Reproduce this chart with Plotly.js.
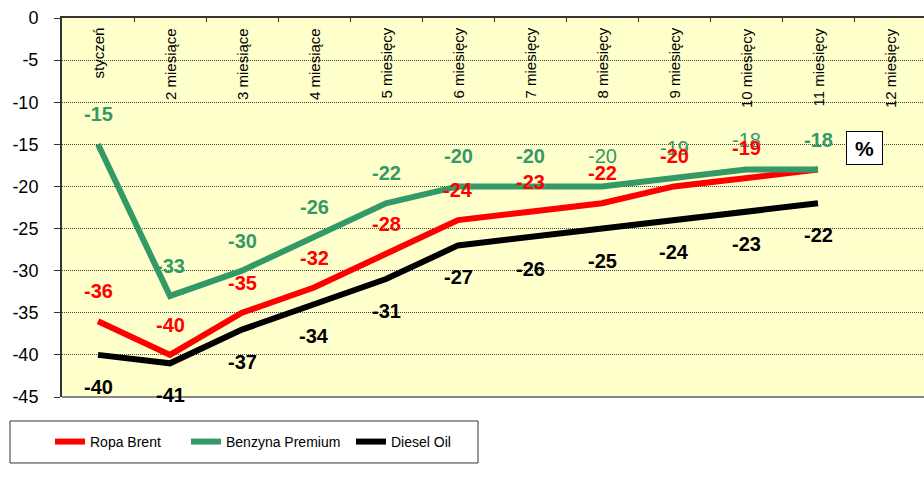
<!DOCTYPE html>
<html>
<head>
<meta charset="utf-8">
<script src="https://cdn.plot.ly/plotly-3.0.1.min.js"></script>
<style>
html,body{margin:0;padding:0;overflow:hidden;background:#fff;}
#chart{width:926px;height:489px;}
</style>
</head>
<body>
<div id="chart"></div>
<script>
// ---- data ----
var categories = ['styczeń','2 miesiące','3 miesiące','4 miesiące','5 miesięcy','6 miesięcy','7 miesięcy','8 miesięcy','9 miesięcy','10 miesięcy','11 miesięcy','12 miesięcy'];
var brentValues   = [-36,-40,-35,-32,-28,-24,-23,-22,-20,-19,-18];
var benzynaValues = [-15,-33,-30,-26,-22,-20,-20,-20,-19,-18,-18];
var dieselValues  = [-40,-41,-37,-34,-31,-27,-26,-25,-24,-23,-22];
var brentLabelShown   = [1,1,1,1,1,1,1,1,1,1,0];
var benzynaLabelBold  = [1,1,1,1,1,1,1,0,0,0,1];
var seriesNames = ['Ropa Brent','Benzyna Premium','Diesel Oil'];
var yTicks = [0,-5,-10,-15,-20,-25,-30,-35,-40,-45];

var RED = '#FF0000', GREEN = '#339966', BLACK = '#000000';
var FONT = 'Arial, "Liberation Sans", sans-serif';

function mkTrace(name, vals, color, legendId) {
  return {
    type: 'scatter', mode: 'lines', name: name,
    x: categories.slice(0, vals.length), y: vals,
    line: {color: color, width: 6},
    legend: legendId, hoverinfo: 'skip'
  };
}
var traces = [
  mkTrace(seriesNames[0], brentValues, RED, 'legend'),
  mkTrace(seriesNames[1], benzynaValues, GREEN, 'legend2'),
  mkTrace(seriesNames[2], dieselValues, BLACK, 'legend3')
];

var annotations = [];
// category labels, rotated, inside the plot under the top axis
categories.forEach(function(c){
  annotations.push({x: c, y: 1, xref:'x', yref:'paper', xanchor:'center', yanchor:'top',
    yshift: -8, textangle: -90, showarrow:false, text: c,
    font:{family: FONT, size: 15, color:'#000'}});
});
benzynaValues.forEach(function(v, i){
  annotations.push({x: categories[i], y: v, xref:'x', yref:'y', yshift: 30, showarrow:false,
    text: benzynaLabelBold[i] ? '<b>'+v+'</b>' : String(v),
    font:{family: FONT, size: 20, color: GREEN}});
});
brentValues.forEach(function(v, i){
  if (!brentLabelShown[i]) return;
  annotations.push({x: categories[i], y: v, xref:'x', yref:'y', yshift: 30, showarrow:false,
    text: '<b>'+v+'</b>', font:{family: FONT, size: 20, color: RED}});
});
dieselValues.forEach(function(v, i){
  annotations.push({x: categories[i], y: v, xref:'x', yref:'y', yshift: -32, showarrow:false,
    text: '<b>'+v+'</b>', font:{family: FONT, size: 20, color: BLACK}});
});
annotations.push({xref:'paper', yref:'paper', x: 0.950, y: 0.657, showarrow:false,
  text:'<b>%</b>', font:{family: FONT, size: 21, color:'#000'},
  bgcolor:'#fff', bordercolor:'#000', borderwidth:1, width: 33, height: 30});

var legendFont = {family: FONT, size: 14, color: '#000'};
function mkLegend(x) {
  return {x: x, y: -0.1187, xanchor:'left', yanchor:'middle', orientation:'h',
    bgcolor:'rgba(0,0,0,0)', borderwidth:0, font: legendFont, itemwidth: 30};
}

var layout = {
  width: 926, height: 489,
  margin: {l: 62, r: 0, t: 18, b: 92, pad: 0},
  paper_bgcolor: '#ffffff', plot_bgcolor: '#FFFFCC',
  showlegend: true,
  xaxis: {
    type: 'category', categoryorder: 'array', categoryarray: categories,
    range: [-0.5, 11.5], side: 'top', tickson: 'boundaries',
    ticks: 'inside', ticklen: 4, tickcolor: '#333', tickwidth: 1,
    showticklabels: false,
    showline: true, linecolor: '#333', linewidth: 2,
    showgrid: false, zeroline: false, fixedrange: true
  },
  yaxis: {
    range: [-45, 0], tickmode: 'array', tickvals: yTicks, ticktext: yTicks.map(String),
    ticks: 'outside', ticklen: 6, tickcolor: '#333', tickwidth: 1,
    tickfont: {family: FONT, size: 18, color: '#000'},
    ticklabelstandoff: 12,
    showline: true, linecolor: '#333', linewidth: 2,
    showgrid: true, gridcolor: '#444', gridwidth: 1, griddash: '1px,1px',
    zeroline: false, fixedrange: true
  },
  legend: mkLegend(-0.0139),
  legend2: mkLegend(0.1435),
  legend3: mkLegend(0.3345),
  shapes: [
    {type:'rect', xref:'paper', yref:'paper', x0:-0.0602, x1:0.4815, y0:-0.1741, y1:-0.0633,
     line:{color:'#333', width:1}, fillcolor:'#fff', layer:'below'},
    {type:'line', xref:'paper', yref:'paper', x0:0, x1:1, y0:0, y1:0,
     line:{color:'#888', width:2}}
  ],
  annotations: annotations
};

Plotly.newPlot('chart', traces, layout, {displayModeBar: false, staticPlot: true});
</script>
</body>
</html>
